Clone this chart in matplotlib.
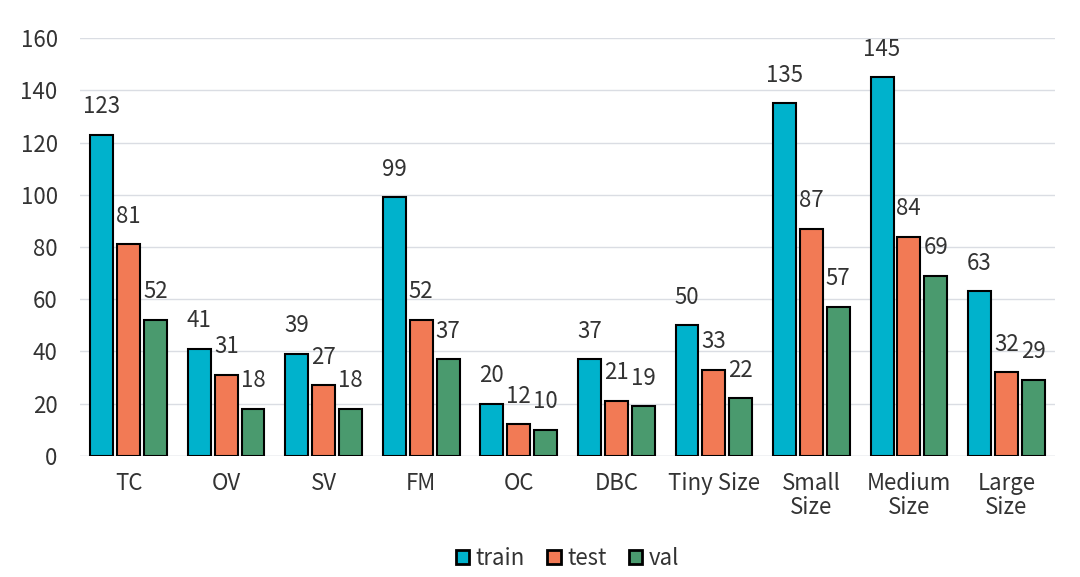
import matplotlib.pyplot as plt
import numpy as np

categories = ["TC", "OV", "SV", "FM", "OC", "DBC", "Tiny Size",
              "Small\nSize", "Medium\nSize", "Large\nSize"]
train = [123, 41, 39, 99, 20, 37, 50, 135, 145, 63]
test = [81, 31, 27, 52, 12, 21, 33, 87, 84, 32]
val = [52, 18, 18, 37, 10, 19, 22, 57, 69, 29]

series = {"train": (train, "#00B2CC"), "test": (test, "#F27A55"), "val": (val, "#4A9A6E")}

plt.rcParams['font.family'] = ['Noto Sans CJK SC', 'DejaVu Sans']

fig = plt.figure(figsize=(10.8, 5.77), dpi=100)
ax = fig.add_axes([0.074, 0.21, 0.903, 0.724])

x = np.arange(len(categories))
width = 0.235
step = 0.275

for i, (name, (vals, color)) in enumerate(series.items()):
    pos = x + (i - 1) * step
    bars = ax.bar(pos, vals, width, color=color, edgecolor="black", linewidth=1.5,
                  label=name, zorder=3)
    for b, v in zip(bars, vals):
        ax.annotate(str(v), (b.get_x() + b.get_width() / 2, v), xytext=(0, 12),
                    textcoords="offset points", ha="center", va="bottom",
                    fontsize=16, color="#333333")

ax.set_ylim(0, 160)
ax.set_xlim(-0.5, len(categories) - 0.5)
ax.set_yticks(range(0, 161, 20))
ax.set_xticks(x)
ax.set_xticklabels(categories, fontsize=16, color="#333333", linespacing=1.05)
ax.tick_params(axis="y", labelsize=16, labelcolor="#333333", length=0, pad=16)
ax.tick_params(axis="x", length=0, pad=12)
ax.grid(axis="y", color="#DADDE3", linewidth=1, zorder=0)
for s in ax.spines.values():
    s.set_visible(False)
ax.axhline(0, color="#DADDE3", linewidth=1, zorder=0)

leg = ax.legend(loc="lower center", bbox_to_anchor=(0.5, -0.32), ncol=3, frameon=False,
                fontsize=16, handlelength=0.6, handleheight=0.6, handletextpad=0.3,
                columnspacing=1.0, labelcolor="#333333")
for h in leg.legend_handles:
    h.set_linewidth(2)

fig.savefig("out.png", dpi=100)
